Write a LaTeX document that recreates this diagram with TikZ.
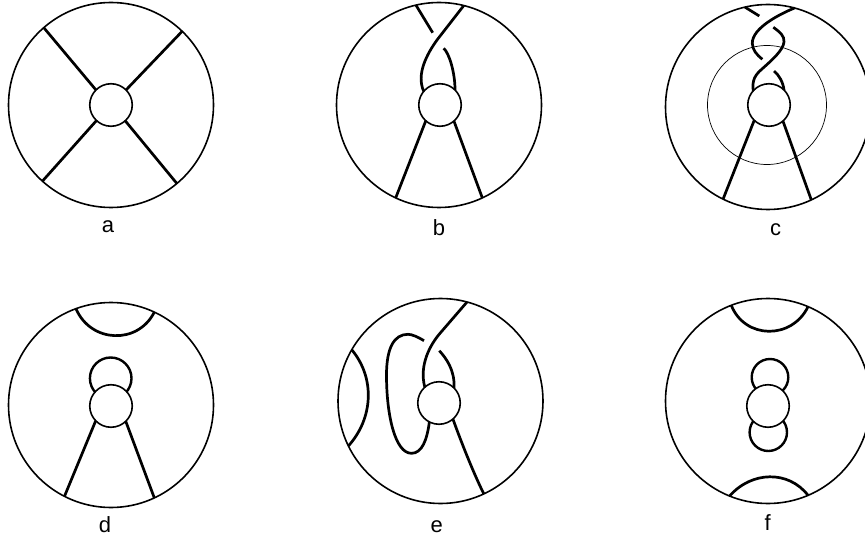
\documentclass[tikz,border=0pt]{standalone}
\usepackage{fontspec}
\setmainfont{Liberation Sans}
\tikzset{
  ring/.style={circle,draw=black,line width=1.6pt,inner sep=0pt,outer sep=0pt,minimum size=205pt},
  hub/.style={circle,draw=black,fill=white,line width=1.6pt,inner sep=0pt,outer sep=0pt,minimum size=42.5pt},
  strand/.style={draw=black,line width=2.7pt},
  thinring/.style={circle,draw=black,line width=0.7pt,inner sep=0pt,outer sep=0pt,minimum size=119pt},
  lobe/.style={circle,draw=black,line width=2.4pt,inner sep=0pt,outer sep=0pt},
  lab/.style={font=\fontsize{22}{24}\selectfont,inner sep=0pt,text=black}
}
\begin{document}
\begin{tikzpicture}[x=1pt,y=-1pt]
\clip (0,0) rectangle (865,540);
% ---- a
\node[ring] (ra) at (111,105) {};
\node[hub] (ha) at (111,105) {};
\draw[strand] (ra.131.6) -- (ha.135.6);
\draw[strand] (ra.46.5) -- (ha.45);
\draw[strand] (ra.228.1) -- (ha.227.7);
\draw[strand] (ra.310.2) -- (ha.312);
\node[lab] (la) at (108,227) {a};
% ---- b
\node[ring] (rb) at (439,105) {};
\node[hub] (hb) at (440,105) {};
\coordinate (bs) at (432.7,32.7);
\coordinate (bt) at (443.7,48.3);
\draw[strand] (rb.103) -- (bs);
\draw[strand] (rb.76) -- (437,40) .. controls (427,54) and (416,74) .. (hb.140.7);
\draw[strand] (bt) .. controls (449,53) and (455,72) .. (hb.45);
\draw[strand] (rb.245.6) -- (hb.228.6);
\draw[strand] (rb.295) -- (hb.311.4);
\node[lab] (lb) at (439,228) {b};
% ---- c
\node[ring] (rc) at (768,107) {};
\node[thinring] (tc) at (767,105) {};
\node[hub] (hc) at (769,105) {};
\coordinate (cs) at (759.3,16);
\coordinate (ce) at (762.3,59.3);
\coordinate (cm) at (773.3,27.3);
\coordinate (ct) at (774,71);
\draw[strand] (rc.103) -- (cs);
\draw[strand] (rc.75) .. controls (780,14) and (752,28) .. (752.3,43.3) .. controls (752.4,50) and (757,55) .. (ce);
\draw[strand] (cm) .. controls (780,32) and (784.5,36) .. (784,41.7) .. controls (783.5,50) and (772,60) .. (762,69) .. controls (755,75) and (752,80) .. (hc.138);
\draw[strand] (ct) .. controls (779,75) and (783,82) .. (hc.45.7);
\draw[strand] (rc.244) -- (hc.226.7);
\draw[strand] (rc.295.4) -- (hc.311);
\node[lab] (lc) at (775.7,230) {c};
% ---- d
\node[ring] (rd) at (111,405) {};
\node[lobe,minimum size=41.6pt] (ld1) at (110.7,378.3) {};
\node[hub] (hd) at (111,406) {};
\draw[strand] (rd.110.2) .. controls (90.8,343.2) and (137.9,344.9) .. (rd.65.9);
\draw[strand] (rd.243.7) -- (hd.224);
\draw[strand] (rd.295) -- (hd.314);
\node[lab] (ld) at (105,525) {d};
% ---- e
\node[ring] (re) at (440.5,401) {};
\node[hub] (he) at (439,403) {};
\coordinate (es) at (439.3,350.7);
\coordinate (el) at (424,340.7);
\draw[strand] (re.75.4) -- (440,333.3) .. controls (430,345) and (419,365) .. (he.132);
\draw[strand] (es) .. controls (446,358) and (455,370) .. (he.45.5);
\draw[strand] (he.311) .. controls (459,436) and (472,470) .. (re.295.5);
\draw[strand] (re.150.5) .. controls (375.5,378.1) and (373.1,418.6) .. (re.206.3);
\draw[strand] (el) .. controls (418,337) and (412,334.3) .. (408,334.3) .. controls (394,334.3) and (386.5,348) .. (386.5,375) .. controls (386.5,415) and (395,453.3) .. (411.5,453.3) .. controls (422,453.3) and (427,440) .. (he.243);
\node[lab] (le) at (436.7,527) {e};
% ---- f
\node[ring] (rf) at (768,401) {};
\node[lobe,minimum size=36.6pt] (lf1) at (770,377.3) {};
\node[lobe,minimum size=37.4pt] (lf2) at (768.3,432.3) {};
\node[hub] (hf) at (768,406) {};
\draw[strand] (rf.111.8) .. controls (744.8,339.4) and (791.9,340) .. (rf.67.7);
\draw[strand] (rf.248.5) .. controls (751.5,471) and (788.5,470) .. (rf.293.8);
\node[lab] (lf) at (767.7,523) {f};
\end{tikzpicture}
\end{document}
